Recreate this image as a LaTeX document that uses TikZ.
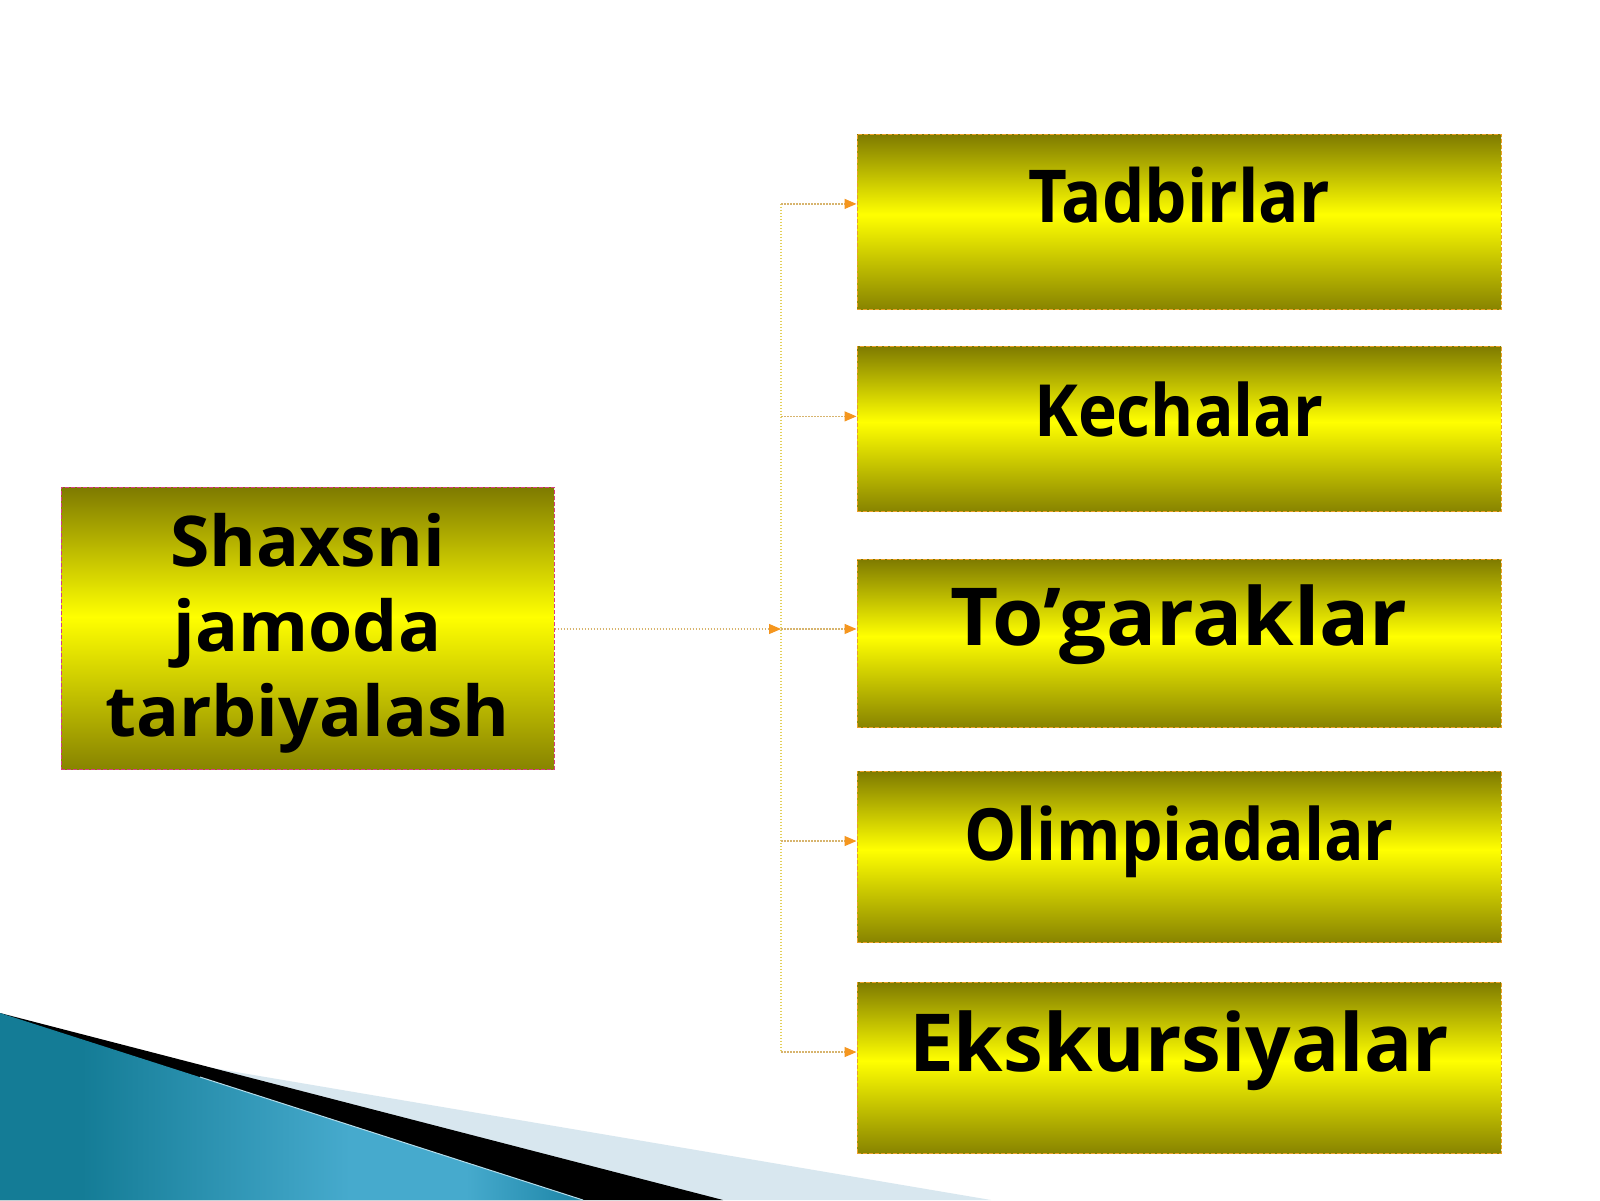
\documentclass[tikz,border=0pt]{standalone}
\usepackage{fontspec}
\setmainfont{Open Sans}
\newfontfamily\fTad{Open Sans}[FakeStretch=0.92]
\newfontfamily\fKec{Open Sans}[FakeStretch=0.915]
\newfontfamily\fTog{Open Sans}[FakeStretch=1.04]
\newfontfamily\fOli{Open Sans}[FakeStretch=0.914]
\newfontfamily\fEks{Open Sans}[FakeStretch=1.0]
\newfontfamily\fMain{Open Sans}[FakeStretch=1.02]
\usetikzlibrary{arrows.meta,calc}
\definecolor{olivetop}{RGB}{126,122,0}
\definecolor{olivebot}{RGB}{136,132,0}
\definecolor{goldyel}{RGB}{255,255,0}
\definecolor{edgeorange}{RGB}{235,160,40}
\definecolor{edgepink}{RGB}{215,60,130}
\definecolor{linecol}{RGB}{215,180,110}
\definecolor{vlinecol}{RGB}{228,208,90}
\definecolor{tipcol}{RGB}{245,150,30}
\definecolor{lightband}{RGB}{216,231,239}
\definecolor{tealA}{RGB}{20,124,150}
\definecolor{tealB}{RGB}{70,170,205}
\definecolor{tealC}{RGB}{28,132,166}
\pgfdeclareverticalshading{goldbar}{100bp}{color(0bp)=(olivebot); color(25bp)=(olivebot); color(52bp)=(goldyel); color(75bp)=(olivetop); color(100bp)=(olivetop)}
\pgfdeclarehorizontalshading{tealbar}{100bp}{color(0bp)=(tealA); color(25bp)=(tealA); color(32bp)=(tealA); color(55bp)=(tealB); color(65bp)=(tealB); color(75bp)=(tealC); color(100bp)=(tealC)}
\tikzset{
  goldbox/.style={shading=goldbar, draw=edgeorange, dash pattern=on 4pt off 2pt, line width=1pt, inner sep=0pt, minimum width=644pt, text=black},
  mainbox/.style={goldbox, draw=edgepink, minimum width=493pt, minimum height=282pt, align=center},
  link/.style={draw=linecol, line width=1.2pt, dash pattern=on 1.5pt off 1.5pt},
  vlink/.style={draw=vlinecol, line width=1.2pt, dash pattern=on 1.5pt off 1.5pt},
  tipped/.style={-{Triangle[length=12pt,width=10pt,color=tipcol]}},
}
\begin{document}
\begin{tikzpicture}[x=1pt,y=-1pt]
\useasboundingbox (0,0) rectangle (1600,1200);
\fill[white] (0,0) rectangle (1600,1200);
% bottom-left decoration
\fill[lightband] (0,1032) -- (991,1200) -- (0,1200) -- cycle;
\fill[black] (0,1013) -- (723,1200) -- (0,1200) -- cycle;
\shade[shading=tealbar] (0,1013) -- (583,1200) -- (0,1200) -- cycle;
\draw[tealB!40!white, line width=1pt] (200,1077) -- (583,1200);
% boxes
\node[mainbox, font=\fMain\bfseries\fontsize{70}{85}\selectfont] (m) at (307.5,628) {\rule{0pt}{63.5pt}Shaxsni\\jamoda\\tarbiyalash};
\node[goldbox, text height=88pt, text depth=87pt, font=\fTad\bfseries\fontsize{73}{84}\selectfont] (b1) at (1179,221.5) {Tadbirlar};
\node[goldbox, text height=90pt, text depth=75pt, font=\fKec\bfseries\fontsize{72}{84}\selectfont] (b2) at (1179,428.5) {Kechalar};
\node[goldbox, text height=86pt, text depth=82pt, font=\fTog\bfseries\fontsize{80}{90}\selectfont] (b3) at (1179,643) {To’garaklar};
\node[goldbox, text height=89pt, text depth=82pt, font=\fOli\bfseries\fontsize{72}{90}\selectfont] (b4) at (1179,856.5) {Olimpiadalar};
\node[goldbox, text height=89pt, text depth=82pt, font=\fEks\bfseries\fontsize{80}{90}\selectfont] (b5) at (1179,1067.5) {Ekskursiyalar};
% connectors
\coordinate (j) at (781,629);
\coordinate (p1) at ($(b1.north west)!0.40!(b1.south west)$);
\coordinate (p2) at ($(b2.north west)!0.427!(b2.south west)$);
\coordinate (p3) at ($(b3.north west)!0.417!(b3.south west)$);
\coordinate (p4) at ($(b4.north west)!0.41!(b4.south west)$);
\coordinate (p5) at ($(b5.north west)!0.41!(b5.south west)$);
\draw[vlink] (j |- p1) -- (j |- p5);
\draw[link,tipped] (m.east |- j) -- (j);
\foreach \i in {1,...,5}{\draw[link,tipped] (j |- p\i) -- (p\i);}
\end{tikzpicture}
\end{document}
